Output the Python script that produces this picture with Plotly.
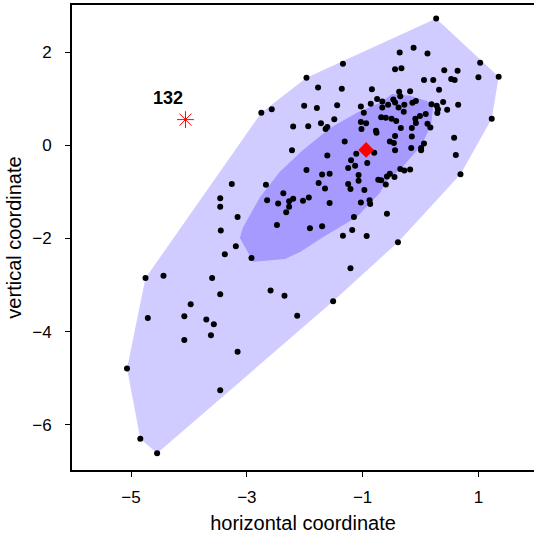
import plotly.graph_objects as go

# ---- data (data units) ----
pts_x = [
    -2.75, -2.57, -2.20, -2.22, -3.26, -2.67, -3.46, -3.46, -2.37, -2.20, -2.27, -2.46, -2.27, -2.32, -2.65,
    0.27, -0.36, -0.12, 0.12, -1.34, -1.97, 1.03, 1.35, 1.00, -0.44, -0.33, 0.41, 0.64, 0.06, 0.22, 0.53, 0.59,
    -1.77, -1.36, -0.84, 0.32, -0.37, -0.18, -0.35, -2.01, -1.79, -1.44, -0.86, -0.75, -0.66, -1.03, -0.66,
    -0.56, -0.47, -0.44, -0.38, -0.28, -0.29, -0.14, -0.08, 0.19, 0.28, 0.30, 0.39, 0.46, 0.65, 0.29, -0.98,
    1.23, -1.94, -1.72, -1.49, -1.61, -1.64, -1.03, -0.94, -1.02, -0.68, -0.60, -0.50, -0.42, -0.77, -0.76,
    -0.34, -0.15, -0.08, -0.09, -0.01, 0.09, 0.12, 0.17, -0.44, -0.15, -1.31, -0.53, -0.46, -0.44, -0.16,
    0.01, 0.06, 0.01, 0.58, 0.61, 0.69, -1.11, -0.80, -1.61, -1.20, -0.92, -1.13, -1.25, -1.97, -1.70, -1.57,
    -1.07, -1.07, -0.35, -0.28, -0.18, -0.53, -0.58, -0.45, -0.73, -0.68, -0.60, -1.76, -1.65, -1.25, -1.21,
    -0.97, -1.93, -2.03, -0.88, -0.87,
    -1.57, -1.03, -3.16, -3.45, -2.48, -1.91, -1.70, -1.15, -1.34, -1.18, -0.93, -0.58, -0.39, -1.21, -1.51,
    -3.19, -3.38, -2.92, -4.75, -4.44, -3.60, -3.46, -2.59, -2.35, -2.13, -3.97, -4.08, -3.70, -3.57, -4.71,
    -4.08, -3.62, -3.16, -5.07, -3.46, -4.84, -4.55,
]
pts_y = [
    0.70, 0.77, 0.40, -0.11, -0.83, -0.85, -1.14, -1.32, -1.03, -1.15, -1.20, -1.25, -1.32, -1.44, -1.18,
    2.72, 1.99, 2.09, 1.97, 1.75, 1.45, 1.77, 1.47, 1.46, 1.63, 1.65, 1.61, 1.60, 1.40, 1.40, 1.42, 1.40,
    1.24, 1.21, 1.20, 1.19, 1.15, 1.16, 1.05, 0.85, 0.80, 0.86, 0.89, 0.99, 0.94, 0.83, 0.81,
    0.87, 0.98, 0.92, 0.81, 0.87, 0.72, 0.91, 0.95, 0.88, 0.85, 0.77, 0.93, 0.76, 0.87, 0.69, 0.70,
    0.57, 0.41, 0.47, 0.56, 0.39, 0.35, 0.50, 0.47, 0.35, 0.60, 0.59, 0.57, 0.52, 0.31, 0.27,
    0.37, 0.37, 0.48, 0.57, 0.63, 0.67, 0.46, 0.38, 0.20, 0.19, 0.08, 0.08, 0.05, -0.11, -0.06,
    -0.06, 0.04, -0.11, 0.16, -0.21, -0.62, -0.18, -0.16, -0.22, -0.32, -0.38, -0.44, -0.49, -0.53, -0.63, -0.61,
    -0.64, -0.76, -0.51, -0.54, -0.52, -0.61, -0.67, -0.68, -0.74, -0.75, -0.84, -0.81, -0.93, -0.83, -0.94,
    -0.96, -1.12, -1.19, -1.18, -1.26,
    -1.24, -1.23, -1.54, -1.83, -1.71, -1.78, -1.74, -1.54, -1.94, -1.82, -1.95, -1.47, -2.08, -2.64, -3.35,
    -2.17, -2.34, -2.42, -2.85, -2.80, -2.85, -3.20, -3.12, -3.23, -3.66, -3.41, -3.67, -3.74, -3.84, -3.71,
    -4.18, -4.08, -4.43, -4.79, -5.26, -6.30, -6.61,
]

median_x = [-0.94]
median_y = [-0.10]

outlier_x = [-4.06]
outlier_y = [0.55]
outlier_label = ["132"]

bag_x = [-3.12, -3.07, -2.77, -2.43, -2.03, -1.56, -1.10, -0.70, -0.49, -0.18, 0.11, 0.22,
         0.18, 0.01, -0.32, -0.60, -0.70, -1.10, -1.68, -2.08, -2.34, -2.89]
bag_y = [-1.99, -1.77, -1.11, -0.57, -0.10, 0.37, 0.70, 0.91, 1.10, 1.06, 0.95, 0.84,
         0.42, -0.01, -0.48, -0.79, -1.02, -1.54, -1.97, -2.29, -2.44, -2.50]


def convex_hull(xs, ys):
    p = sorted(set(zip(xs, ys)))
    def cross(o, a, b):
        return (a[0] - o[0]) * (b[1] - o[1]) - (a[1] - o[1]) * (b[0] - o[0])
    lower, upper = [], []
    for q in p:
        while len(lower) >= 2 and cross(lower[-2], lower[-1], q) <= 0:
            lower.pop()
        lower.append(q)
    for q in reversed(p):
        while len(upper) >= 2 and cross(upper[-2], upper[-1], q) <= 0:
            upper.pop()
        upper.append(q)
    h = lower[:-1] + upper[:-1]
    return [a for a, _ in h], [b for _, b in h]


loop_x, loop_y = convex_hull(pts_x, pts_y)

LOOP_COL = "#D1CCFF"
BAG_COL = "#A79AFF"
RED = "#FF0000"

fig = go.Figure()
fig.add_trace(go.Scatter(x=loop_x + loop_x[:1], y=loop_y + loop_y[:1], fill="toself",
                         fillcolor=LOOP_COL, mode="lines", line=dict(width=0, color=LOOP_COL),
                         hoverinfo="skip", showlegend=False))
fig.add_trace(go.Scatter(x=bag_x + bag_x[:1], y=bag_y + bag_y[:1], fill="toself",
                         fillcolor=BAG_COL, mode="lines", line=dict(width=0, color=BAG_COL),
                         hoverinfo="skip", showlegend=False))
fig.add_trace(go.Scatter(x=pts_x, y=pts_y, mode="markers",
                         marker=dict(size=6, color="black"), showlegend=False))
fig.add_trace(go.Scatter(x=median_x, y=median_y, mode="markers",
                         marker=dict(symbol="diamond", size=12, color=RED), showlegend=False))
fig.add_trace(go.Scatter(x=outlier_x, y=outlier_y, mode="markers",
                         marker=dict(symbol="asterisk-open", size=14, color=RED,
                                     line=dict(color=RED, width=1)), showlegend=False))
for ox, oy, lab in zip(outlier_x, outlier_y, outlier_label):
    fig.add_annotation(x=ox, y=oy, text=f"<b>{lab}</b>", showarrow=False,
                       xshift=-17, yshift=22, font=dict(size=18, color="black",
                                                        family="Liberation Sans, Arial"))

FONT = "Liberation Sans, Arial, sans-serif"
fig.update_layout(
    width=534, height=534,
    margin=dict(l=72, r=0, t=5, b=64),
    plot_bgcolor="white", paper_bgcolor="white",
    font=dict(family=FONT, color="black"),
    xaxis=dict(range=[-6.02, 1.96], tickvals=[-5, -3, -1, 1], ticktext=["\u22125", "\u22123", "\u22121", "1"],
               showgrid=False, zeroline=False, showline=True, linecolor="black", linewidth=2,
               mirror=True, ticks="outside", ticklen=5, tickwidth=1, tickcolor="black",
               tickfont=dict(size=17), ticklabelstandoff=6,
               title=dict(text="horizontal coordinate", font=dict(size=20), standoff=10)),
    yaxis=dict(range=[-6.97, 3.01], tickvals=[-6, -4, -2, 0, 2],
               ticktext=["\u22126", "\u22124", "\u22122", "0", "2"],
               showgrid=False, zeroline=False, showline=True, linecolor="black", linewidth=2,
               mirror=False, ticks="outside", ticklen=5, tickwidth=1, tickcolor="black",
               tickfont=dict(size=17), ticklabelstandoff=10,
               title=dict(text="vertical coordinate", font=dict(size=20), standoff=5)),
)

fig.write_html("out.html")
